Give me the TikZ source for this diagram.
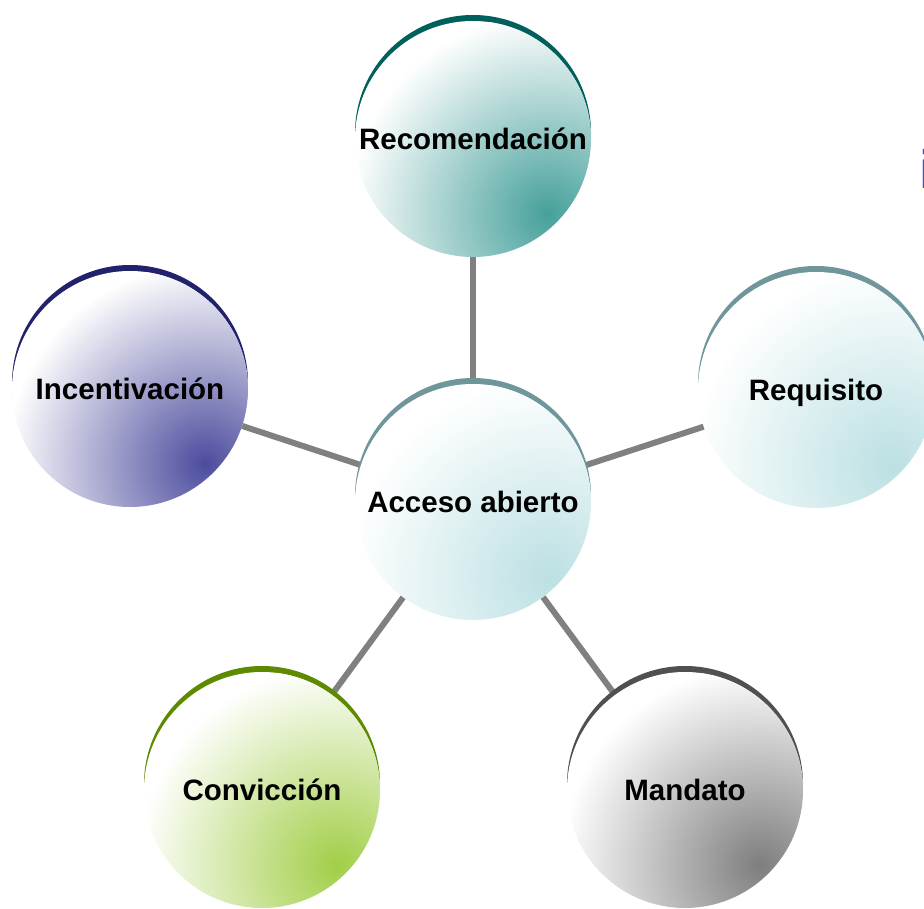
\documentclass[tikz,border=0pt]{standalone}
\usepackage{fontspec}
\setmainfont{Liberation Sans}
\usetikzlibrary{calc}
\pgfdeclarelayer{bg}
\pgfsetlayers{bg,main}
\definecolor{tealrim}{HTML}{00605C}
\definecolor{tealspot}{HTML}{46A09B}
\definecolor{cyanrim}{HTML}{6E969B}
\definecolor{cyanspot}{HTML}{BCE0E3}
\definecolor{navyrim}{HTML}{22226C}
\definecolor{navyspot}{HTML}{4C4C9E}
\definecolor{greenrim}{HTML}{5E8A00}
\definecolor{greenspot}{HTML}{A2CE48}
\definecolor{grayrim}{HTML}{505050}
\definecolor{grayspot}{HTML}{7E7E7E}
\definecolor{linkgray}{HTML}{808080}
\definecolor{fragblue}{HTML}{5050A5}
\tikzset{
  bubble/.style={circle, minimum size=236pt, inner sep=0pt, fill=white,
    text height=21pt, text depth=0pt,
    font=\fontsize{29.5}{31}\selectfont\bfseries,
    path picture={\shade[inner color=#1, outer color=white]
      ($(path picture bounding box.center)+(75,75)$) circle (200pt);}},
  rim/.style={fill=#1},
  link/.style={draw=linkgray, line width=6pt}
}
\begin{document}
\begin{tikzpicture}[x=1pt,y=-1pt]
\useasboundingbox (0,0) rectangle (924,909);
\node[bubble=cyanspot]  (A) at (473,502) {Acceso abierto};
\node[bubble=tealspot]  (T) at (473,139) {Recomendación};
\node[bubble=cyanspot]  (R) at (816,390) {Requisito};
\node[bubble=navyspot]  (L) at (130,389) {Incentivación};
\node[bubble=greenspot] (C) at (262,790) {Convicción};
\node[bubble=grayspot]  (M) at (685,790) {Mandato};
\node[anchor=base west, inner sep=0pt, text=fragblue,
      font=\fontsize{54}{54}\selectfont\bfseries] (frag) at (919.5,189) {i};
\begin{pgfonlayer}{bg}
  \draw[link] (A.center) -- (T.center);
  \draw[link] (A.center) -- (R.center);
  \draw[link] (A.center) -- (L.center);
  \draw[link] (A.center) -- (C.center);
  \draw[link] (A.center) -- (M.center);
  \fill[rim=cyanrim]  ([yshift=6pt]A.center) circle (118pt);
  \fill[rim=tealrim]  ([yshift=6pt]T.center) circle (118pt);
  \fill[rim=cyanrim]  ([yshift=6pt]R.center) circle (118pt);
  \fill[rim=navyrim]  ([yshift=6pt]L.center) circle (118pt);
  \fill[rim=greenrim] ([yshift=6pt]C.center) circle (118pt);
  \fill[rim=grayrim]  ([yshift=6pt]M.center) circle (118pt);
\end{pgfonlayer}
\end{tikzpicture}
\end{document}
